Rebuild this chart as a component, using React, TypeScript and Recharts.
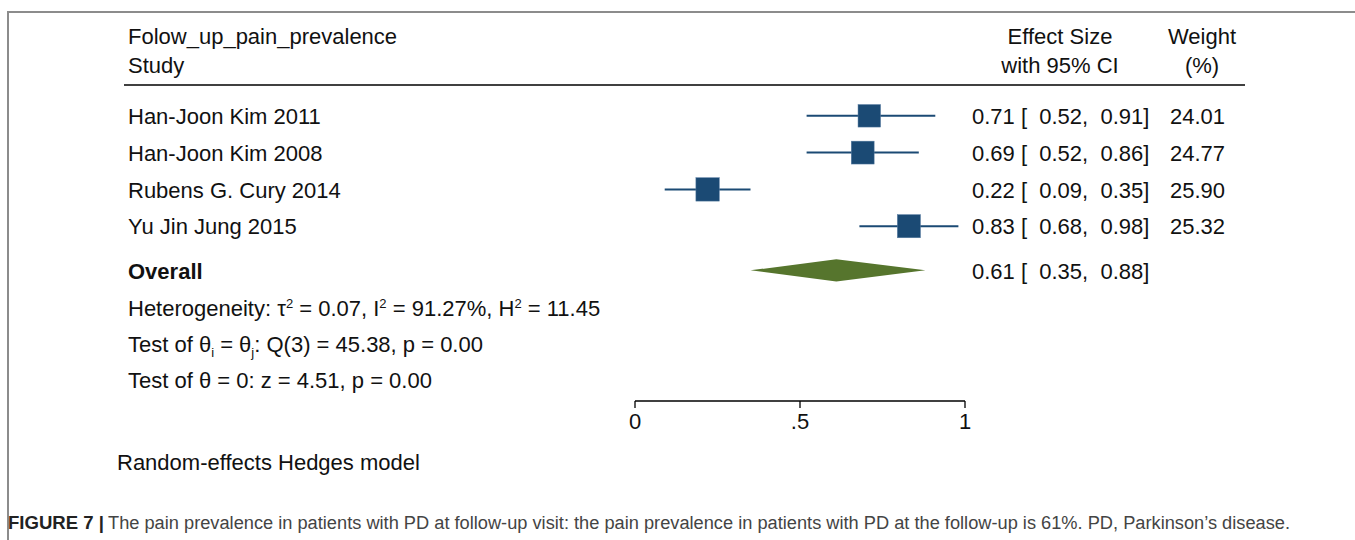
import React from 'react';
import {
  ErrorBar,
  ReferenceArea,
  Scatter,
  ScatterChart,
  XAxis,
  YAxis,
} from 'recharts';

const studies = ['Han-Joon Kim 2011', 'Han-Joon Kim 2008', 'Rubens G. Cury 2014', 'Yu Jin Jung 2015'];
const effects = [0.71, 0.69, 0.22, 0.83];
const lowers = [0.52, 0.52, 0.09, 0.68];
const uppers = [0.91, 0.86, 0.35, 0.98];
const weights = [24.01, 24.77, 25.9, 25.32];

const overallEs = 0.61;
const overallLo = 0.35;
const overallHi = 0.88;

const xTicks = [0, 0.5, 1];
const xTickLabels = ['0', '.5', '1'];

const FONT = '"Liberation Sans", Arial, Helvetica, sans-serif';
const NAVY = '#1b4a74';
const GREEN = '#56752d';

// row 1..4 are the studies, overall sits a little lower
const OVERALL_ROW = 5.2;
const DIAMOND_HALF = 0.3;

const fmt = (v: number) => v.toFixed(2);
const ciText = (es: number, lo: number, hi: number) => `${fmt(es)} [  ${fmt(lo)},  ${fmt(hi)}]`;

const studyData = studies.map((name, i) => ({
  name,
  row: i + 1,
  es: effects[i],
  ci: [effects[i] - lowers[i], uppers[i] - effects[i]],
  label: ciText(effects[i], lowers[i], uppers[i]),
  weight: weights[i].toFixed(2),
  w: weights[i],
}));

const txt = { fontFamily: FONT, fontSize: 22, fill: '#111' };

const StudyRow = (props: any) => {
  const { cx, cy, payload } = props;
  const side = 4.6 * Math.sqrt(payload.w);
  return (
    <g>
      <rect x={cx - side / 2} y={cy - side / 2} width={side} height={side} fill={NAVY} stroke="#5b7fa3" strokeWidth={0.5} />
      <text x={128} y={cy} dy="0.37em" style={txt}>{payload.name}</text>
      <text x={972} y={cy} dy="0.37em" style={{ ...txt, whiteSpace: 'pre' }}>{payload.label}</text>
      <text x={1225} y={cy} dy="0.37em" textAnchor="end" style={txt}>{payload.weight}</text>
    </g>
  );
};

const Diamond = (props: any) => {
  const { x, y, width, height } = props;
  const mid = x + (width * (overallEs - overallLo)) / (overallHi - overallLo);
  const cy = y + height / 2;
  return (
    <g>
      <polygon
        points={`${x},${cy} ${mid},${y} ${x + width},${cy} ${mid},${y + height}`}
        fill={GREEN}
      />
      <text x={128} y={cy} dy="0.37em" style={{ ...txt, fontWeight: 'bold' }}>Overall</text>
      <text x={972} y={cy} dy="0.37em" style={{ ...txt, whiteSpace: 'pre' }}>
        {ciText(overallEs, overallLo, overallHi)}
      </text>
    </g>
  );
};

const sup = { fontSize: 13, fill: '#111' };

export default function App() {
  return (
    <div style={{ position: 'absolute', left: 0, top: 0, background: '#fff' }}>
      <ScatterChart width={1355} height={540} margin={{ top: 79, right: 390, bottom: 109, left: 635 }}>
        <XAxis
          type="number"
          dataKey="es"
          domain={[0, 1]}
          ticks={xTicks}
          tickFormatter={(v: number) => xTickLabels[xTicks.indexOf(v)]}
          height={30}
          tickSize={7}
          tickMargin={5}
          axisLine={{ stroke: '#000', strokeWidth: 1.3 }}
          tickLine={{ stroke: '#000', strokeWidth: 1.3 }}
          tick={{ fill: '#111', fontSize: 22, fontFamily: FONT }}
        />
        <YAxis type="number" dataKey="row" domain={[0, 8.75]} reversed hide />
        <ReferenceArea
          x1={overallLo}
          x2={overallHi}
          y1={OVERALL_ROW - DIAMOND_HALF}
          y2={OVERALL_ROW + DIAMOND_HALF}
          shape={Diamond}
        />
        <Scatter data={studyData} shape={StudyRow} isAnimationActive={false}>
          <ErrorBar dataKey="ci" direction="x" width={0} stroke={NAVY} strokeWidth={2} />
        </Scatter>

        {/* frame */}
        <line x1={7} y1={12} x2={1355} y2={12} stroke="#8c8c8c" strokeWidth={2} />
        <line x1={8} y1={11} x2={8} y2={540} stroke="#8c8c8c" strokeWidth={2} />

        {/* header */}
        <text x={128} y={36} dy="0.36em" style={txt}>Folow_up_pain_prevalence</text>
        <text x={128} y={65} dy="0.36em" style={txt}>Study</text>
        <text x={1060} y={36} dy="0.36em" textAnchor="middle" style={txt}>Effect Size</text>
        <text x={1060} y={65} dy="0.36em" textAnchor="middle" style={txt}>with 95% CI</text>
        <text x={1202} y={36} dy="0.36em" textAnchor="middle" style={txt}>Weight</text>
        <text x={1202} y={65} dy="0.36em" textAnchor="middle" style={txt}>(%)</text>
        <line x1={124} y1={85} x2={1245} y2={85} stroke="#000" strokeWidth={1.5} />

        {/* stats */}
        <text x={128} y={308} dy="0.36em" style={txt}>
          Heterogeneity: τ<tspan dy={-8} style={sup}>2</tspan>
          <tspan dy={8}> = 0.07, I</tspan>
          <tspan dy={-8} style={sup}>2</tspan>
          <tspan dy={8}> = 91.27%, H</tspan>
          <tspan dy={-8} style={sup}>2</tspan>
          <tspan dy={8}> = 11.45</tspan>
        </text>
        <text x={128} y={344} dy="0.36em" style={txt}>
          Test of θ<tspan dy={5} style={sup}>i</tspan>
          <tspan dy={-5}> = θ</tspan>
          <tspan dy={5} style={sup}>j</tspan>
          <tspan dy={-5}>: Q(3) = 45.38, p = 0.00</tspan>
        </text>
        <text x={128} y={380} dy="0.36em" style={txt}>Test of θ = 0: z = 4.51, p = 0.00</text>

        <text x={117} y={462} dy="0.36em" style={txt}>Random-effects Hedges model</text>

        {/* caption */}
        <text
          x={8}
          y={523}
          dy="0.36em"
          textLength={96}
          lengthAdjust="spacingAndGlyphs"
          style={{ fontFamily: FONT, fontSize: 18, fontWeight: 'bold', fill: '#222' }}
        >
          FIGURE 7 |
        </text>
        <text
          x={108}
          y={523}
          dy="0.36em"
          textLength={1182}
          lengthAdjust="spacingAndGlyphs"
          style={{ fontFamily: FONT, fontSize: 18, fill: '#444' }}
        >
          The pain prevalence in patients with PD at follow-up visit: the pain prevalence in patients with PD at the follow-up is 61%. PD, Parkinson’s disease.
        </text>
      </ScatterChart>
    </div>
  );
}
